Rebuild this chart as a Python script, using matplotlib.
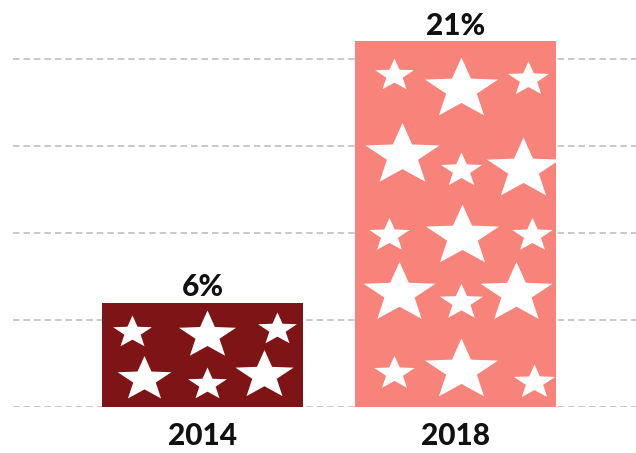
import matplotlib
matplotlib.use('Agg')
import matplotlib.pyplot as plt
import numpy as np
from matplotlib.path import Path
from matplotlib.markers import MarkerStyle

# ---- data ----
years = ['2014', '2018']
shares = [6, 21]
value_labels = ['6%', '21%']
bar_colors = ['#7f1416', '#f8837a']
grid_values = [0, 5, 10, 15, 20]

# ---- star decoration layout (fraction across bar, fraction up bar, outer radius px) ----
star_layout = [
    [(0.149, 0.721, 17), (0.522, 0.692, 25), (0.871, 0.750, 17),
     (0.209, 0.269, 23.5), (0.522, 0.221, 17), (0.806, 0.308, 25.5)],
    [(0.192, 0.907, 17), (0.527, 0.871, 32), (0.862, 0.896, 18),
     (0.232, 0.688, 32.5), (0.527, 0.647, 18), (0.833, 0.652, 32),
     (0.167, 0.471, 17.7), (0.532, 0.468, 32), (0.882, 0.471, 17.7),
     (0.217, 0.312, 31.5), (0.527, 0.288, 18.8), (0.798, 0.312, 31.5),
     (0.192, 0.093, 17.7), (0.527, 0.101, 32), (0.892, 0.068, 18)],
]

DPI = 100
W, H = 636, 453
plt.rcParams['font.family'] = ['Lato', 'DejaVu Sans']

fig = plt.figure(figsize=(W / DPI, H / DPI), dpi=DPI)
ax = fig.add_axes([13 / W, 46 / H, (W - 13) / W, 383 / H])

x = np.arange(len(years))
bar_w = 0.795
bars = ax.bar(x, shares, width=bar_w, color=bar_colors, zorder=2)

# star marker, slightly stretched horizontally
sx, inner = 1.2, 0.42
verts = []
for k in range(10):
    ang = np.pi / 2 + k * np.pi / 5
    r = 1.0 if k % 2 == 0 else inner
    verts.append((sx * r * np.cos(ang), r * np.sin(ang)))
verts.append(verts[0])
codes = [Path.MOVETO] + [Path.LINETO] * 9 + [Path.CLOSEPOLY]
star_path = Path(verts, codes)
maxabs = np.max(np.abs(np.array(verts)))
star_marker = MarkerStyle(star_path)

for i, rect in enumerate(bars):
    left = rect.get_x()
    wdt = rect.get_width()
    hgt = rect.get_height()
    for fx, fy, R in star_layout[i]:
        ms = 2 * R * maxabs * 72 / DPI
        ln, = ax.plot(left + fx * wdt, fy * hgt, marker=star_marker, ms=ms,
                      color='white', mec='none', ls='none', zorder=3)
        ln.set_clip_path(rect)

for xi, v, lab in zip(x, shares, value_labels):
    ax.annotate(lab, (xi, v), xytext=(0, 1), textcoords='offset points',
                ha='center', va='bottom', fontsize=21.5, fontweight='black',
                color='#111111', annotation_clip=False)

ax.set_xlim(-0.749, 1.713)
ax.set_ylim(0, 22)
ax.set_yticks(grid_values)
ax.set_yticklabels([])
ax.yaxis.grid(True, linestyle=(0, (3.6, 2.2)), color='#c4c4c4', linewidth=1.3, zorder=0)
ax.set_axisbelow(True)
ax.tick_params(axis='y', length=0)
ax.set_xticks(x)
ax.set_xticklabels(years, fontsize=21.5, fontweight='black', color='#111111')
ax.tick_params(axis='x', length=0, pad=11)
for s in ax.spines.values():
    s.set_visible(False)

fig.savefig('out.png', dpi=DPI)
